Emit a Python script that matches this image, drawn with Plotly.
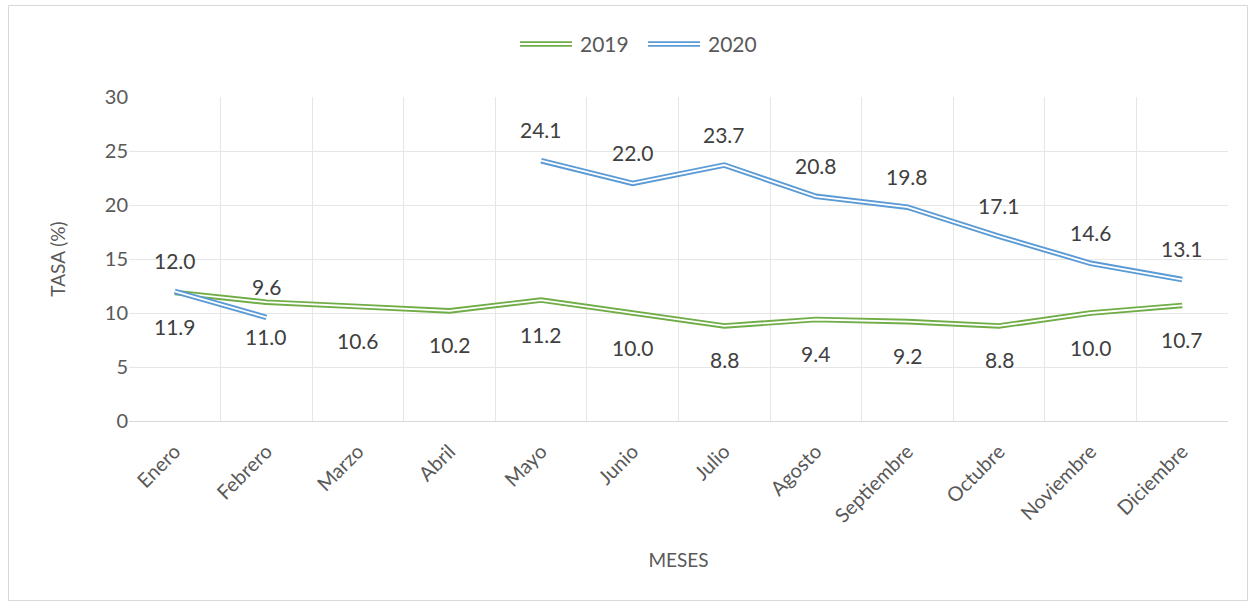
import plotly.graph_objects as go

months = ["Enero", "Febrero", "Marzo", "Abril", "Mayo", "Junio", "Julio",
          "Agosto", "Septiembre", "Octubre", "Noviembre", "Diciembre"]
tasa_2019 = [11.9, 11.0, 10.6, 10.2, 11.2, 10.0, 8.8, 9.4, 9.2, 8.8, 10.0, 10.7]
tasa_2020 = [12.0, 9.6, None, None, 24.1, 22.0, 23.7, 20.8, 19.8, 17.1, 14.6, 13.1]
y_ticks = [0, 5, 10, 15, 20, 25, 30]

GREEN = "#70AD47"
BLUE = "#5B9BD5"
TEXT = "#595959"
FONT = "Lato"

W, H = 1252, 603
ML, MR, MT, MB = 129, 24, 97, 182
PW, PH = W - ML - MR, H - MT - MB

fig = go.Figure()

def double_line(y, color, name):
    fig.add_trace(go.Scatter(x=months, y=y, mode="lines", name=name,
                             line=dict(color=color, width=5.6), showlegend=False,
                             connectgaps=False, hoverinfo="skip"))
    fig.add_trace(go.Scatter(x=months, y=y, mode="lines", name=name,
                             line=dict(color="white", width=1.8), showlegend=False,
                             connectgaps=False, hoverinfo="skip"))

double_line(tasa_2019, GREEN, "2019")
double_line(tasa_2020, BLUE, "2020")

annotations = []
for m, v in zip(months, tasa_2019):
    if v is not None:
        annotations.append(dict(x=m, y=v, text=f"{v:.1f}", showarrow=False,
                                yshift=-34, font=dict(family=FONT, size=21, color="#404040")))
for m, v in zip(months, tasa_2020):
    if v is not None:
        annotations.append(dict(x=m, y=v, text=f"{v:.1f}", showarrow=False,
                                yshift=31, font=dict(family=FONT, size=21, color="#404040")))

def px_x(p):
    return (p - ML) / PW

def px_y(p):
    return (H - MB - p) / PH

shapes = []
# outer border
shapes.append(dict(type="rect", xref="paper", yref="paper",
                   x0=px_x(8.5), x1=px_x(1247.5), y0=px_y(600.5), y1=px_y(5.5),
                   line=dict(color="#D9D9D9", width=1), fillcolor="rgba(0,0,0,0)", layer="below"))
# manual legend (double lines)
for (x0, x1, col) in [(520, 572, GREEN), (648, 700, BLUE)]:
    shapes.append(dict(type="line", xref="paper", yref="paper",
                       x0=px_x(x0), x1=px_x(x1), y0=px_y(44), y1=px_y(44),
                       line=dict(color=col, width=5.6)))
    shapes.append(dict(type="line", xref="paper", yref="paper",
                       x0=px_x(x0 - 1), x1=px_x(x1 + 1), y0=px_y(44), y1=px_y(44),
                       line=dict(color="white", width=1.8)))
for (xt, txt) in [(578, "2019"), (706, "2020")]:
    annotations.append(dict(xref="paper", yref="paper", x=px_x(xt), y=px_y(44),
                            xanchor="left", yanchor="middle", text=txt, showarrow=False,
                            font=dict(family=FONT, size=21, color=TEXT)))

fig.update_layout(
    width=W, height=H,
    margin=dict(l=ML, r=MR, t=MT, b=MB),
    paper_bgcolor="white", plot_bgcolor="white",
    font=dict(family=FONT, size=20, color=TEXT),
    showlegend=False,
    annotations=annotations,
    shapes=shapes,
)
fig.update_xaxes(type="category", tickson="boundaries", showgrid=True,
                 gridcolor="#E6E6E6", gridwidth=1, ticks="", tickangle=-45,
                 tickfont=dict(family=FONT, size=20, color=TEXT),
                 ticklabelstandoff=10,
                 showline=True, linecolor="#D9D9D9", mirror=False,
                 title=dict(text="MESES", font=dict(family=FONT, size=19, color=TEXT), standoff=27),
                 range=[-0.5, 11.5])
fig.update_yaxes(range=[0, 30], tickvals=y_ticks, showgrid=True, gridcolor="#E6E6E6",
                 gridwidth=1, zeroline=False, ticks="",
                 tickfont=dict(family=FONT, size=20, color=TEXT),
                 title=dict(text="TASA (%)", font=dict(family=FONT, size=19, color=TEXT), standoff=34))

fig.write_html("out.html", config={"displayModeBar": False},
               post_script="document.body.style.margin='0';document.body.style.overflow='hidden';")
